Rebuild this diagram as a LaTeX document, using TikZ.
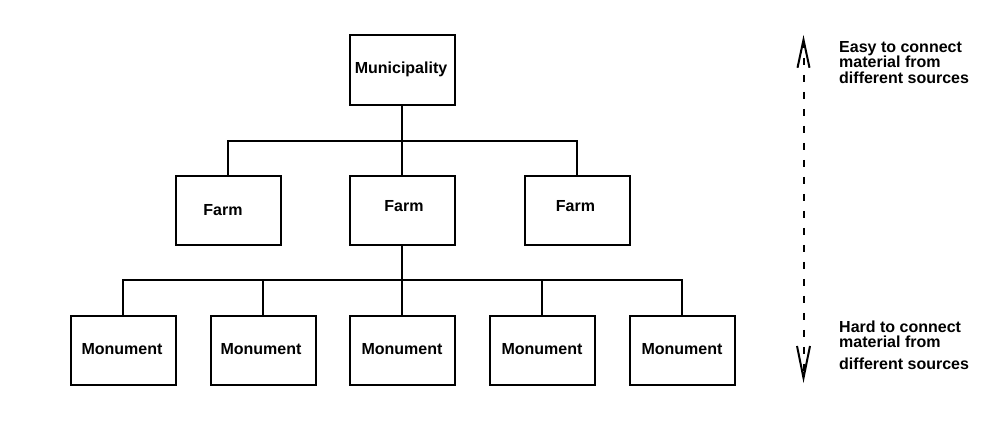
\documentclass[tikz,border=0pt]{standalone}
\usepackage{fontspec}
\setmainfont{Liberation Sans}
\usetikzlibrary{arrows.meta}
\begin{document}
\begin{tikzpicture}[x=1pt,y=-1pt,
  box/.style={draw=black,line width=2pt,minimum width=105pt,minimum height=69pt,inner sep=0pt,fill=white},
  lbl/.style={inner sep=0pt,anchor=base,font=\fontsize{16}{16}\selectfont\bfseries},
  side/.style={inner sep=0pt,anchor=base west,align=left,font=\fontsize{16}{15.5}\selectfont\bfseries},
  conn/.style={line width=2pt,line cap=rect}]
\useasboundingbox (0,0) rectangle (1000,420);
% boxes
\node[box] (mun) at (402,70) {};
\node[box] (f1) at (228,210) {};
\node[box] (f2) at (402,210) {};
\node[box] (f3) at (577,210) {};
\node[box] (m1) at (123,350) {};
\node[box] (m2) at (263,350) {};
\node[box] (m3) at (402,350) {};
\node[box] (m4) at (542,350) {};
\node[box] (m5) at (682,350) {};
% labels
\node[lbl] (munt) at (401,74) {Municipality};
\node[lbl] (f1t) at (223,215) {Farm};
\node[lbl] (f2t) at (404,211) {Farm};
\node[lbl] (f3t) at (575.5,211) {Farm};
\node[lbl] (m1t) at (122,354) {Monument};
\node[lbl] (m2t) at (261,354) {Monument};
\node[lbl] (m3t) at (402,354) {Monument};
\node[lbl] (m4t) at (542,354) {Monument};
\node[lbl] (m5t) at (682,354) {Monument};
% connectors
\coordinate (j1) at (402,140.5);
\coordinate (j2) at (402,280);
\draw[conn] (mun.south) -- (j1);
\draw[conn] (f1.north) |- (j1) -| (f3.north);
\draw[conn] (j1) -- (f2.north);
\draw[conn] (f2.south) -- (j2);
\draw[conn] (m1.north) |- (j2) -| (m5.north);
\draw[conn] (m2.north) |- (j2);
\draw[conn] (m4.north) |- (j2);
\draw[conn] (j2) -- (m3.north);
% side arrow
\coordinate (atop) at (803.5,35);
\coordinate (abot) at (803.5,383);
\draw[line width=2pt,dash pattern=on 7pt off 10pt,
  arrows={Straight Barb[length=28pt,width=12pt,line width=2pt]-Straight Barb[length=32pt,width=13pt,line width=2pt]}]
  (atop) -- (abot);
\node[side] (easy) at (839,83) {Easy to connect\\material from\\different sources};
\node[side] (hard) at (839,369) {Hard to connect\\material from\\[6pt]different sources};
\end{tikzpicture}
\end{document}
